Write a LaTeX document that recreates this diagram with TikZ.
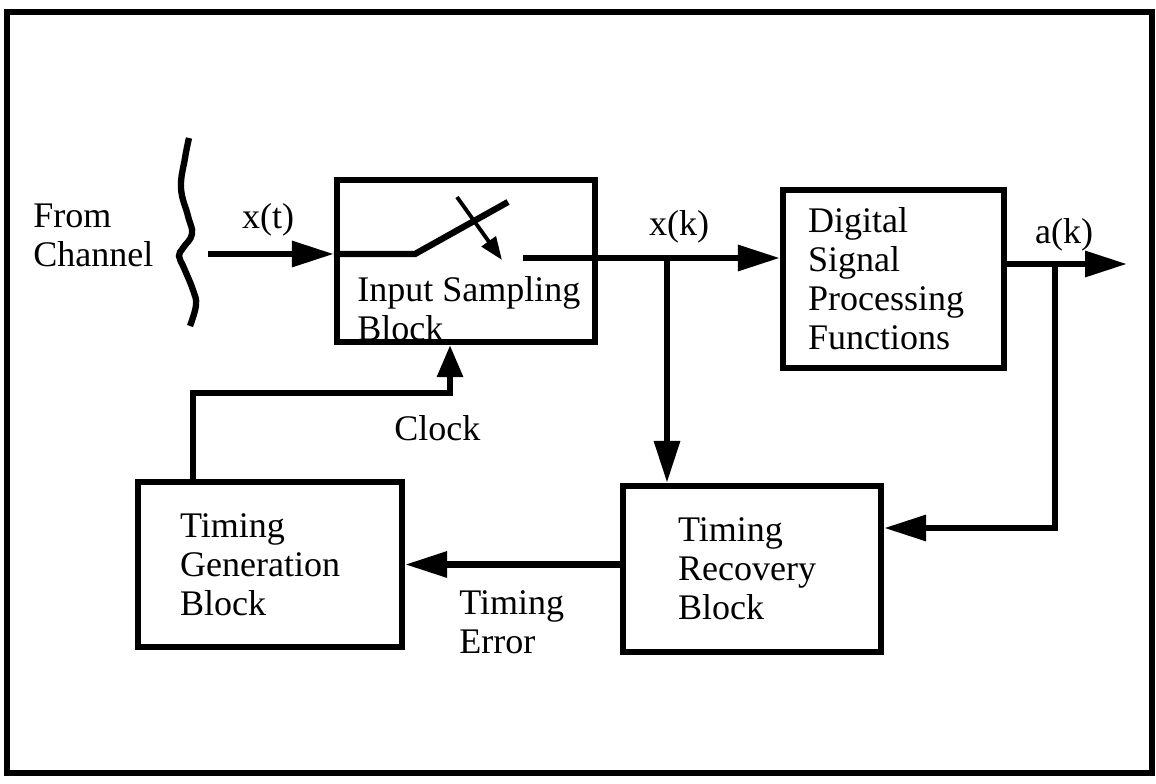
\documentclass[tikz,border=0pt]{standalone}
\usepackage{fontspec}
\setmainfont{Liberation Serif}
\usepackage{tikz}
\usetikzlibrary{arrows.meta}
\newcommand{\diagfont}{\fontsize{20.5pt}{22.2pt}\selectfont}
\tikzset{
  block/.style={
    draw,
    line width=3.6pt,
    align=left,
    inner ysep=0pt,
    font=\diagfont
  },
  lbl/.style={align=left, inner sep=0pt, font=\diagfont},
  wire/.style={line width=3.6pt},
  sig/.style={-{Triangle[length=8.4mm,width=5mm]}, line width=3.6pt},
  clk/.style={-{Triangle[length=6.4mm,width=5mm]}, line width=3.6pt},
  swarrow/.style={-{Triangle[length=4.6mm,width=3.4mm]}, line width=2.2pt},
  frame/.style={line width=3.8pt}
}

\begin{document}
\begin{tikzpicture}[x=0.02cm,y=-0.02cm]
    \useasboundingbox (0,0) rectangle (1156,784);
    \draw[frame] (7,12) rectangle (1152,773);

    \node[block, minimum width=5.16cm, minimum height=3.24cm] (isb) at (466,261) {};
    \node[block, text width=3.42cm, inner xsep=5mm, minimum height=3.56cm] (dsp) at (893.5,279)
      {Digital\\Signal\\Processing\\Functions};
    \node[block, text width=3.6cm, inner xsep=8.4mm, minimum height=3.3cm] (tg) at (270,564.5)
      {Timing\\Generation\\Block};
    \node[block, text width=2.96cm, inner xsep=11mm, minimum height=3.32cm] (tr) at (752,569)
      {Timing\\Recovery\\Block};

    \node[lbl, anchor=north west] (isbtext) at (357,276) {Input Sampling\\Block};
    \node[lbl, anchor=north west] (chan) at (33,204) {From\\Channel};
    \node[lbl, anchor=base] (xtlbl) at (268,228) {x(t)};
    \node[lbl, anchor=base] (xklbl) at (679,235) {x(k)};
    \node[lbl, anchor=base] (aklbl) at (1064,243) {a(k)};
    \node[lbl, anchor=base west] (clklbl) at (394,440) {Clock};
    \node[lbl, anchor=north west] (errlbl) at (459,590) {Timing\\Error};

    \draw[wire] plot[smooth, tension=0.7] coordinates {(189,138) (185,158) (181,188) (188,216)
      (192,234) (183,248) (179,256) (184,268) (193,290) (196,305) (190,326)};

    \coordinate (xt) at (208,254);
    \coordinate (swpivot) at (415,254);
    \coordinate (swblade) at (508,202);
    \coordinate (swa) at (457,197);
    \coordinate (swb) at (502,260);
    \coordinate (swcontact) at (523,258);
    \coordinate (jxk) at (667,258);
    \coordinate (jak) at (1055,264);
    \coordinate (aout) at (1127,264);
    \coordinate (ret) at (1055,528);
    \coordinate (clkcorner) at (193,393);
    \coordinate (clkturn) at (450,393);

    \draw[sig] (xt) -- (xt -| isb.west);
    \draw[wire] (isb.west |- swpivot) -- (swpivot) -- (swblade);
    \draw[swarrow] (swa) -- (swb);
    \draw[wire] (swcontact) -- (jxk);
    \draw[sig] (jxk) -- (jxk -| dsp.west);
    \draw[sig] (jxk) -- (jxk |- tr.north);
    \draw[sig] (jak -| dsp.east) -- (aout);
    \draw[sig] (jak) -- (ret) -- (ret -| tr.east);
    \draw[sig] (tr.west |- tg.east) -- (tg.east);
    \draw[clk] (clkcorner |- tg.north) -- (clkcorner) -- (clkturn) -- (clkturn |- isb.south);
  \end{tikzpicture}
\end{document}
